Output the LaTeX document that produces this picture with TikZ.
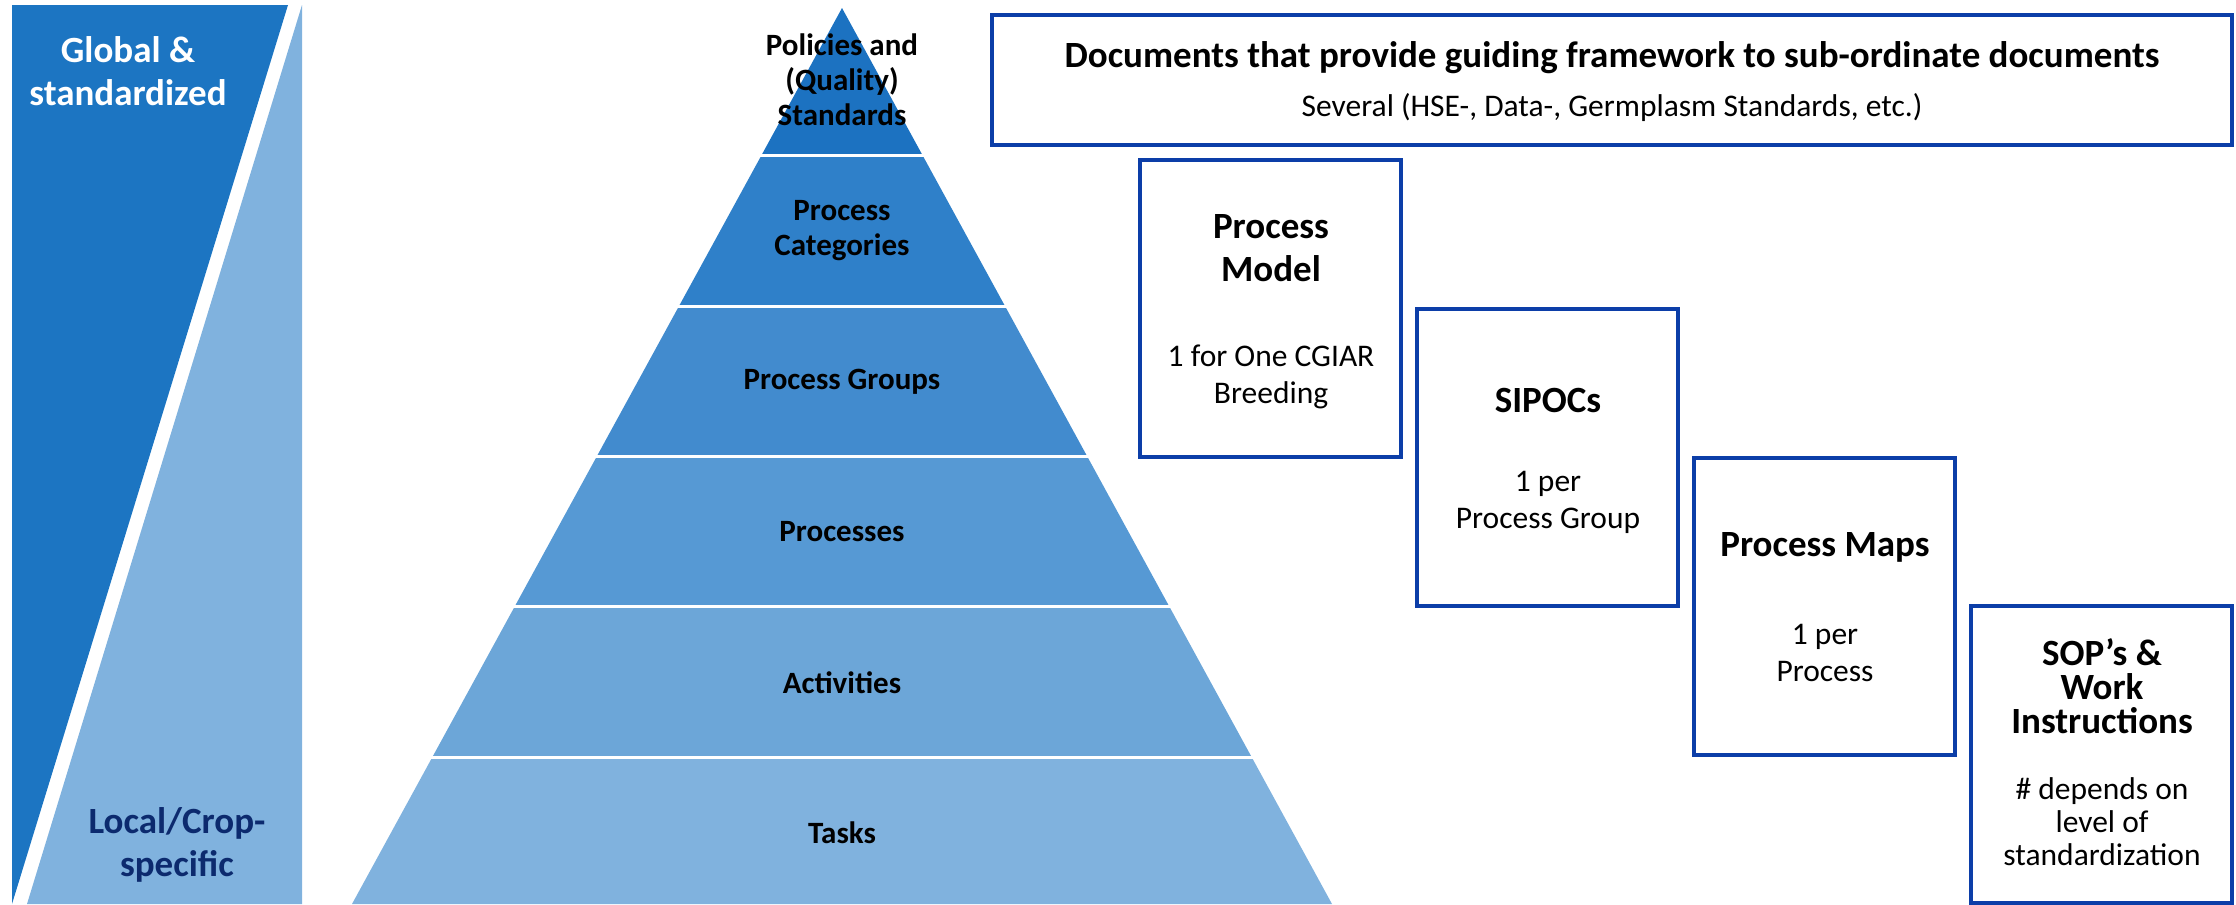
\documentclass[tikz,border=0pt]{standalone}
\usepackage{fontspec}
\setmainfont{Carlito}
\definecolor{panelDark}{RGB}{28,117,194}
\definecolor{panelLight}{RGB}{128,178,222}
\definecolor{lvA}{RGB}{28,114,193}
\definecolor{lvB}{RGB}{47,128,201}
\definecolor{lvC}{RGB}{66,139,206}
\definecolor{lvD}{RGB}{86,153,212}
\definecolor{lvE}{RGB}{108,166,216}
\definecolor{lvF}{RGB}{128,178,222}
\definecolor{boxBlue}{RGB}{12,62,168}
\definecolor{navyText}{RGB}{12,42,110}
\tikzset{
  paneltext/.style={font=\fontsize{37bp}{43bp}\selectfont\bfseries, align=center, inner sep=0pt},
  pyrtext/.style={font=\fontsize{31bp}{35bp}\selectfont\bfseries, align=center, inner sep=0pt, text=black},
  docbox/.style={draw=boxBlue, line width=4bp, fill=white, minimum width=261bp, minimum height=297bp, inner sep=0pt},
  titletext/.style={font=\fontsize{37bp}{43bp}\selectfont\bfseries, align=center, inner sep=0pt},
  bodytext/.style={font=\fontsize{31.5bp}{37bp}\selectfont, align=center, inner sep=0pt},
  gapline/.style={draw=white, line width=3bp}
}
\begin{document}
\begin{tikzpicture}[x=1bp,y=-1bp]
\useasboundingbox (0,0) rectangle (2236,904);
% left panel
\fill[panelDark] (12,5) -- (288,5) -- (12,904) -- cycle;
\fill[panelLight] (302,5) -- (302,904) -- (27,904) -- cycle;
\node[paneltext, text=white] (glob) at (128,71.5) {Global \&\\standardized};
\node[paneltext, text=navyText] (loc) at (177,844.5) {Local/Crop-\\specific};
% pyramid
\fill[lvA] (842,8) -- (922.66,155.5) -- (761.34,155.5) -- cycle;
\fill[lvB] (761.34,155.5) -- (922.66,155.5) -- (1004.97,306) -- (679.03,306) -- cycle;
\fill[lvC] (679.03,306) -- (1004.97,306) -- (1087.27,456.5) -- (596.73,456.5) -- cycle;
\fill[lvD] (596.73,456.5) -- (1087.27,456.5) -- (1169.3,606.5) -- (514.7,606.5) -- cycle;
\fill[lvE] (514.7,606.5) -- (1169.3,606.5) -- (1251.6,757) -- (432.4,757) -- cycle;
\fill[lvF] (432.4,757) -- (1251.6,757) -- (1332,904) -- (352,904) -- cycle;
\foreach \yy in {155.5,306,456.5,606.5,757}{
  \draw[gapline] (340,\yy) -- (1345,\yy);
}
\node[pyrtext] (pol) at (842,80) {Policies and\\(Quality)\\Standards};
\node[pyrtext] (cat) at (842,231) {Process\\Categories};
\node[pyrtext] (grp) at (842,382) {Process Groups};
\node[pyrtext] (prc) at (842,532) {Processes};
\node[pyrtext] (act) at (842,683) {Activities};
\node[pyrtext] (tsk) at (842,833) {Tasks};
% top box
\node[draw=boxBlue, line width=4bp, minimum width=1240bp, minimum height=130bp, inner sep=0pt] (topbox) at (1612,80) {};
\node[titletext] (toptitle) at (1612,58) {Documents that provide guiding framework to sub-ordinate documents};
\node[bodytext] (topsub) at (1612,108) {Several (HSE-, Data-, Germplasm Standards, etc.)};
% step boxes
\node[docbox] (pm) at (1270.5,308.5) {};
\node[titletext] (pmt) at (1271,248.5) {Process\\Model};
\node[bodytext] (pmb) at (1271,377) {1 for One CGIAR\\Breeding};
\node[docbox] (sip) at (1547.5,457.5) {};
\node[titletext] (sipt) at (1548,400) {SIPOCs};
\node[bodytext] (sipb) at (1548,502) {1 per\\Process Group};
\node[docbox] (map) at (1824.5,606.5) {};
\node[titletext] (mapt) at (1825,547) {Process Maps};
\node[bodytext] (mapb) at (1825,653) {1 per\\Process};
\node[docbox] (sop) at (2101.5,754.5) {};
\node[titletext, font=\fontsize{37bp}{34bp}\selectfont\bfseries] (sopt) at (2102,686) {SOP’s \&\\Work\\Instructions};
\node[bodytext, font=\fontsize{31.5bp}{33bp}\selectfont] (sopb) at (2102,822) {\# depends on\\level of\\standardization};
\end{tikzpicture}
\end{document}
